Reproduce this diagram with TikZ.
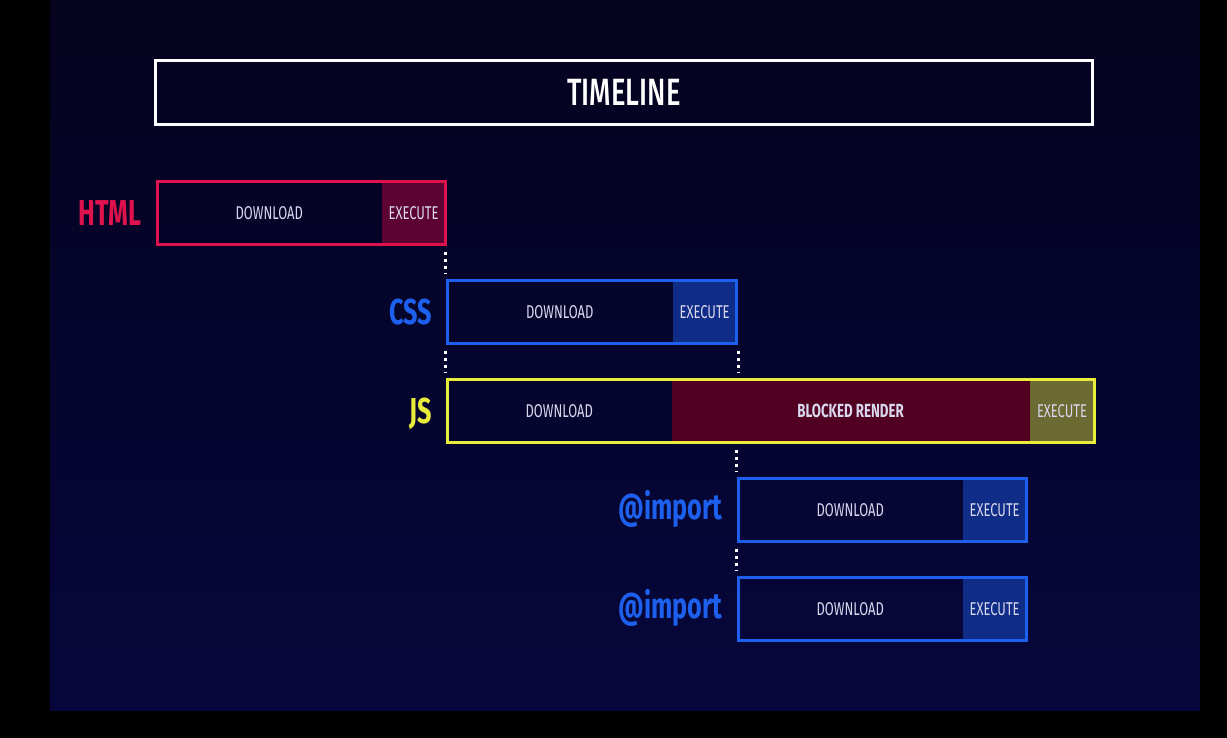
\documentclass[tikz,border=0pt]{standalone}
\usepackage{fontspec}
\setmainfont{Fira Sans}[FakeStretch=0.7]
\newfontfamily\medfont{Fira Sans Medium}[FakeStretch=0.72]
\usetikzlibrary{fit,calc}

\definecolor{panelTop}{HTML}{05031E}
\definecolor{panelBot}{HTML}{06063C}
\definecolor{htmlc}{HTML}{E0124E}
\definecolor{htmlx}{HTML}{5C0333}
\definecolor{cssc}{HTML}{1E60EE}
\definecolor{cssx}{HTML}{0F2C86}
\definecolor{jsc}{HTML}{E8EC3A}
\definecolor{jsblk}{HTML}{520021}
\definecolor{jsx}{HTML}{6A6A32}
\definecolor{segtext}{HTML}{DAD8EE}

\tikzset{
  seg/.style={inner sep=0pt, minimum height=63pt, anchor=west,
    font=\fontsize{18.5}{18.5}\selectfont, text=segtext},
  barbox/.style={draw=#1, line width=3pt, inner sep=0pt},
  lbl/.style={inner sep=0pt, anchor=base east,
    font=\bfseries\fontsize{36}{36}\selectfont, text=#1},
  dots/.style={draw=white, line width=3pt, dash pattern=on 3.5pt off 3.5pt,
    shorten <=5.5pt, shorten >=5.5pt}
}

\begin{document}
\begin{tikzpicture}[x=1pt,y=-1pt]
  % page and panel
  \fill[black] (0,0) rectangle (1227,738);
  \shade[top color=panelTop, bottom color=panelBot] (50,0) rectangle (1200,710);
  \useasboundingbox (0,0) rectangle (1227,738);

  % title bar
  \node[draw=white, line width=3pt, minimum width=937pt, minimum height=64pt,
        inner sep=0pt, text=white, font=\medfont\fontsize{38}{38}\selectfont]
        (tl) at (624,92.5) {TIMELINE};

  % HTML
  \node[seg, minimum width=224pt] (htmldl) at (157,213) {DOWNLOAD};
  \node[seg, fill=htmlx, minimum width=64pt] (htmlex) at (htmldl.east) {EXECUTE};
  \node[barbox=htmlc, fit=(htmldl)(htmlex)] (html) {};
  \node[lbl=htmlc] (htmllbl) at ($(html.west)+(-14,12.5)$) {HTML};

  % CSS
  \node[seg, minimum width=225pt] (cssdl) at (447,312) {DOWNLOAD};
  \node[seg, fill=cssx, minimum width=64pt] (cssex) at (cssdl.east) {EXECUTE};
  \node[barbox=cssc, fit=(cssdl)(cssex)] (css) {};
  \node[lbl=cssc] (csslbl) at ($(css.west)+(-13,12.5)$) {CSS};

  % JS
  \node[seg, minimum width=224pt] (jsdl) at (447,411) {DOWNLOAD};
  \node[seg, fill=jsblk, minimum width=358pt, font=\bfseries\fontsize{19}{19}\selectfont]
        (jsblock) at (jsdl.east) {BLOCKED RENDER};
  \node[seg, fill=jsx, minimum width=64pt] (jsex) at (jsblock.east) {EXECUTE};
  \node[barbox=jsc, fit=(jsdl)(jsex)] (js) {};
  \node[lbl=jsc] (jslbl) at ($(js.west)+(-13,12.5)$) {JS};

  % first @import
  \node[seg, minimum width=224pt] (impadl) at (738,510) {DOWNLOAD};
  \node[seg, fill=cssx, minimum width=64pt] (impaex) at (impadl.east) {EXECUTE};
  \node[barbox=cssc, fit=(impadl)(impaex)] (impa) {};
  \node[lbl=cssc] (impalbl) at ($(impa.west)+(-14,9.5)$) {@import};

  % second @import
  \node[seg, minimum width=224pt] (impbdl) at (738,609) {DOWNLOAD};
  \node[seg, fill=cssx, minimum width=64pt] (impbex) at (impbdl.east) {EXECUTE};
  \node[barbox=cssc, fit=(impbdl)(impbex)] (impb) {};
  \node[lbl=cssc] (impblbl) at ($(impb.west)+(-14,9.5)$) {@import};

  % dependency guides
  \draw[dots] (html.south east -| css.north west) -- (css.north west);
  \draw[dots] (css.south west) -- (js.north west);
  \draw[dots] (css.south east) -- (css.south east |- js.north);
  \draw[dots] (impa.north west |- js.south) -- (impa.north west);
  \draw[dots] (impa.south west) -- (impb.north west);
\end{tikzpicture}
\end{document}
